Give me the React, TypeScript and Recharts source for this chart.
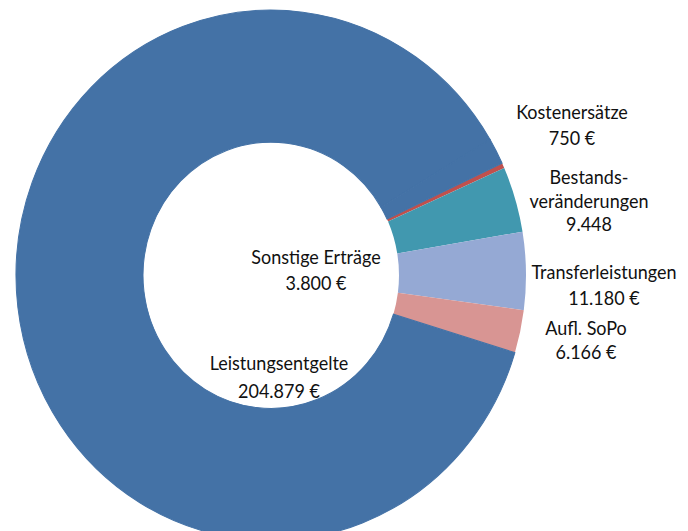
import React from "react";
import { PieChart, Pie, Cell } from "recharts";

// Slice order runs clockwise from the top-right
const categories = [
  "Kostenersätze",
  "Bestandsveränderungen",
  "Transferleistungen",
  "Aufl. SoPo",
  "Leistungsentgelte",
  "Sonstige Erträge",
];
const values = [750, 9448, 11180, 6166, 204879, 3800];
const nameLines = [
  ["Kostenersätze"],
  ["Bestands-", "veränderungen"],
  ["Transferleistungen"],
  ["Aufl. SoPo"],
  ["Leistungsentgelte"],
  ["Sonstige Erträge"],
];
const valueLabels = ["750 €", "9.448", "11.180 €", "6.166 €", "204.879 €", "3.800 €"];

const colors = ["#C0504D", "#4198AF", "#95A9D4", "#D89593", "#4472A6", "#4472A6"];

// label placement (style): offsets from the donut centre, line height
const labelPos = [
  { dx: 301, dy: -157, lh: 25 },
  { dx: 318, dy: -95, lh: 23 },
  { dx: 333, dy: -3, lh: 25 },
  { dx: 315, dy: 51, lh: 23 },
  { dx: 8, dy: 84, lh: 27 },
  { dx: 45, dy: -18, lh: 25 },
];

const data = categories.map((name, i) => ({ name, value: values[i] }));

const CX = 263;
const CY = 257;

const renderLabel = (props: any) => {
  const index = props.index ?? 0;
  const cx = typeof props.cx === "number" ? props.cx : CX;
  const cy = typeof props.cy === "number" ? props.cy : CY;
  const p = labelPos[index];
  const lines = [...nameLines[index], valueLabels[index]];
  return (
    <g key={"lbl" + index}>
      {lines.map((l, i) => (
        <text
          key={i}
          x={cx + p.dx}
          y={cy + p.dy + i * p.lh}
          textAnchor="middle"
          dominantBaseline="central"
          fill="#111"
          fontFamily="Lato, 'Noto Sans', sans-serif"
          fontSize={18}
        >
          {l}
        </text>
      ))}
    </g>
  );
};

export default function App() {
  return (
    <div style={{ width: 680, height: 523, overflow: "hidden" }}>
      <div style={{ transform: "scaleY(1.04)", transformOrigin: "0 0" }}>
        <PieChart width={680} height={520} margin={{ top: 0, right: 0, bottom: 0, left: 0 }}>
          <Pie
            data={data}
            dataKey="value"
            nameKey="name"
            cx={CX}
            cy={CY}
            innerRadius={128}
            outerRadius={255}
            startAngle={25}
            endAngle={-335}
            isAnimationActive={false}
            label={renderLabel}
            labelLine={false}
          >
            {data.map((d, i) => (
              <Cell
                key={d.name}
                fill={colors[i]}
                stroke={i >= 4 ? colors[i] : "none"}
                strokeWidth={i >= 4 ? 1 : 0}
              />
            ))}
          </Pie>
        </PieChart>
      </div>
    </div>
  );
}
